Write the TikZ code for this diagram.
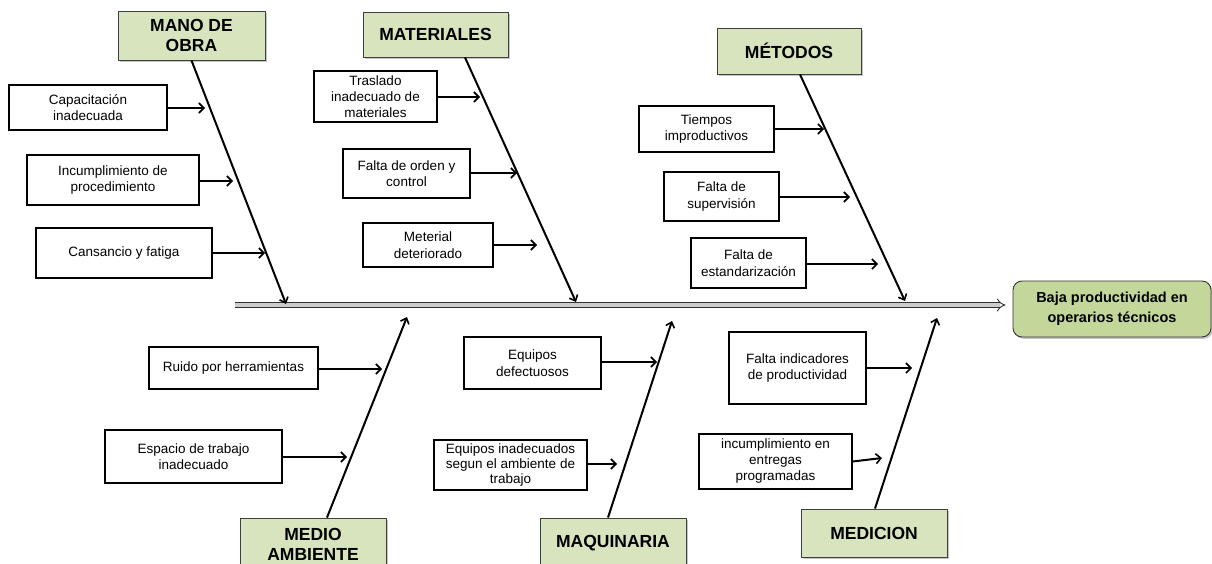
\documentclass[tikz,border=0pt]{standalone}
\usepackage{fontspec}
\setmainfont{Liberation Sans}
\usetikzlibrary{arrows.meta,shadows}
\definecolor{headgreen}{RGB}{215,228,189}
\definecolor{resgreen}{RGB}{196,215,155}
\tikzset{
  cause/.style={draw, line width=1.6pt, fill=white, align=center, inner sep=0pt,
    font=\fontsize{13.5}{16.5}\selectfont},
  head/.style={draw=black!75, line width=0.9pt, fill=headgreen, align=center, inner sep=0pt,
    font=\bfseries\fontsize{17.5}{20}\selectfont,
    drop shadow={shadow xshift=1.8pt, shadow yshift=-1.8pt, fill=black!45}},
  bone/.style={line width=2pt, -{Straight Barb[length=5pt,width=9pt,line width=1.6pt]}},
  carrow/.style={line width=2pt, -{Straight Barb[length=5pt,width=10pt,line width=1.6pt]}},
  spine/.style={line width=0.9pt, draw=black!80, double=black!20, double distance=3.6pt, -{Implies}}
}
\begin{document}
\begin{tikzpicture}[x=1pt,y=-1pt]
\useasboundingbox (0,0) rectangle (1212,564);
\clip (0,0) rectangle (1212,564);

% headers
\node[head, minimum width=147pt, minimum height=49pt] (mano) at (191.5,35.5) {MANO DE\\OBRA};
\node[head, minimum width=145pt, minimum height=45pt] (mat) at (435.5,34.5) {MATERIALES};
\node[head, minimum width=144pt, minimum height=46pt] (met) at (789,51) {MÉTODOS};
\node[head, minimum width=146pt, minimum height=52pt] (medio) at (313,544) {MEDIO\\AMBIENTE};
\node[head, minimum width=146pt, minimum height=50pt] (maq) at (613,543) {MAQUINARIA};
\node[head, minimum width=146pt, minimum height=48pt] (medi) at (874,533) {MEDICION};

% result
\node[draw=black!80, line width=0.9pt, fill=resgreen, rounded corners=9pt, align=center,
  minimum width=198pt, minimum height=56pt, inner sep=0pt,
  font=\bfseries\fontsize{14.5}{20}\selectfont,
  drop shadow={shadow xshift=1.8pt, shadow yshift=-1.8pt, fill=black!45}]
  (res) at (1112,309) {Baja productividad en\\operarios técnicos};

% spine
\coordinate (s0) at (235,305);
\draw[spine, shorten >=7pt] (s0) -- (s0 -| res.west);

% bone tips
\coordinate (t1) at (286,304);
\coordinate (t2) at (576,302);
\coordinate (t3) at (905,301);
\coordinate (b1) at (407,317);
\coordinate (b2) at (672,321);
\coordinate (b3) at (937,318);

\draw[bone] (mano.south) -- (t1);
\draw[bone] ([xshift=29.5pt]mat.south) -- (t2);
\draw[bone] ([xshift=11pt]met.south) -- (t3);
\draw[bone] ([xshift=14pt]medio.north) -- (b1);
\draw[bone] ([xshift=-5pt]maq.north) -- (b2);
\draw[bone] ([xshift=1pt]medi.north) -- (b3);

% causes
\node[cause, minimum width=158pt, minimum height=45pt] (c1) at (88,107.5) {Capacitación\\inadecuada};
\node[cause, minimum width=172pt, minimum height=50pt] (c2) at (113,180) {Incumplimiento de\\procedimiento};
\node[cause, minimum width=176pt, minimum height=50pt] (c3) at (124,253) {Cansancio y fatiga};
\node[cause, minimum width=123pt, minimum height=51pt, font=\fontsize{13.5}{16}\selectfont] (c4) at (375.5,96.5) {Traslado\\inadecuado de\\materiales};
\node[cause, minimum width=127pt, minimum height=49pt] (c5) at (406.5,173.5) {Falta de orden y\\control};
\node[cause, minimum width=130pt, minimum height=44pt] (c6) at (428,245) {Meterial\\deteriorado};
\node[cause, minimum width=135pt, minimum height=46pt] (c7) at (706.5,129) {Tiempos\\improductivos};
\node[cause, minimum width=115pt, minimum height=49pt] (c8) at (721.5,196.5) {Falta de\\supervisión};
\node[cause, minimum width=115pt, minimum height=50pt] (c9) at (748.5,263) {Falta de\\estandarización};
\node[cause, minimum width=169pt, minimum height=42pt] (c10) at (233.5,368) {Ruido por herramientas};
\node[cause, minimum width=177pt, minimum height=53pt] (c11) at (193.5,456.5) {Espacio de trabajo\\inadecuado};
\node[cause, minimum width=137pt, minimum height=52pt] (c12) at (532.5,363) {Equipos\\defectuosos};
\node[cause, minimum width=153pt, minimum height=50pt, font=\fontsize{13.5}{15}\selectfont] (c13) at (510.5,465) {Equipos inadecuados\\segun el ambiente de\\trabajo};
\node[cause, minimum width=137pt, minimum height=72pt] (c14) at (797.5,368) {Falta indicadores\\de productividad};
\node[cause, minimum width=153pt, minimum height=55pt, font=\fontsize{13.5}{16}\selectfont] (c15) at (775.5,461.5) {incumplimiento en\\entregas\\programadas};

% cause arrow ends
\coordinate (e1) at (205,108);
\coordinate (e2) at (233,181);
\coordinate (e3) at (265,253);
\coordinate (e4) at (480,97);
\coordinate (e5) at (517,173);
\coordinate (e6) at (537,245);
\coordinate (e7) at (824,129);
\coordinate (e8) at (850,197);
\coordinate (e9) at (878,264);
\coordinate (e10) at (382,369);
\coordinate (e11) at (347,457);
\coordinate (e12) at (657,362);
\coordinate (e13) at (617,464);
\coordinate (e14) at (912,368);
\coordinate (e15) at (882,458);

\draw[carrow] (c1.east |- e1) -- (e1);
\draw[carrow] (c2.east |- e2) -- (e2);
\draw[carrow] (c3.east |- e3) -- (e3);
\draw[carrow] (c4.east |- e4) -- (e4);
\draw[carrow] (c5.east |- e5) -- (e5);
\draw[carrow] (c6.east |- e6) -- (e6);
\draw[carrow] (c7.east |- e7) -- (e7);
\draw[carrow] (c8.east |- e8) -- (e8);
\draw[carrow] (c9.east |- e9) -- (e9);
\draw[carrow] (c10.east |- e10) -- (e10);
\draw[carrow] (c11.east |- e11) -- (e11);
\draw[carrow] (c12.east |- e12) -- (e12);
\draw[carrow] (c13.east |- e13) -- (e13);
\draw[carrow] (c14.east |- e14) -- (e14);
\draw[carrow] (c15.east) -- (e15);
\end{tikzpicture}
\end{document}
